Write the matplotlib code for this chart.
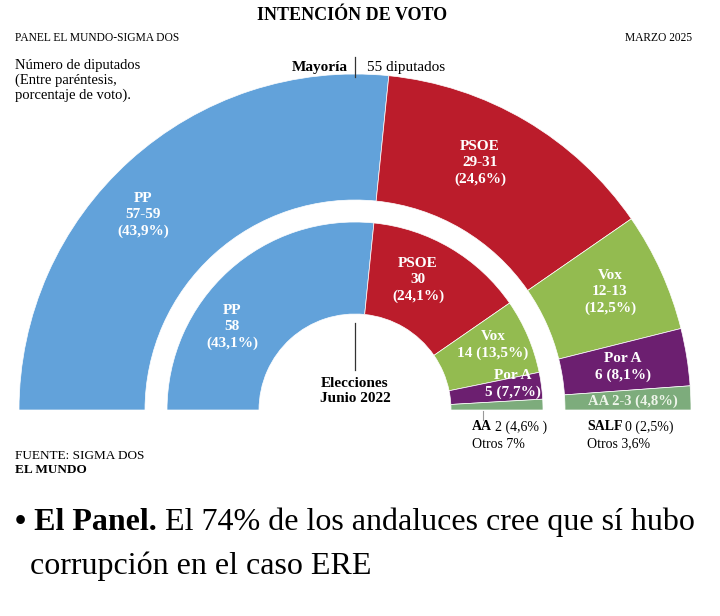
import matplotlib.pyplot as plt

# seats per party (range midpoints for the 2025 poll), 109 seats in total
parties = ['PP', 'PSOE', 'Vox', 'Por A', 'AA']
seats_2025 = [58, 30, 12.5, 6, 2.5]
range_2025 = ['57-59', '29-31', '12-13', '6', '2-3']
pct_2025 = ['43,9', '24,6', '12,5', '8,1', '4,8']
seats_2022 = [58, 30, 14, 5, 2]
pct_2022 = ['43,1', '24,1', '13,5', '7,7', '4,6']
colors = ['#62a2da', '#bb1c2b', '#93bb50', '#6c1f70', '#7dac7c']

W, H = 720, 616
plt.rcParams['font.family'] = ['Liberation Serif', 'DejaVu Serif']

fig = plt.figure(figsize=(7.2, 6.16), dpi=100)
ax = fig.add_axes([0, 0, 1, 1])


def Y(y):
    # pixel row from the top -> data y
    return H - y


cx, cy = 355, Y(410)

# outer ring: March 2025 poll
w_out, _ = ax.pie(seats_2025 + [sum(seats_2025)], colors=colors + ['none'],
                  radius=336, center=(cx, cy), startangle=180, counterclock=False,
                  wedgeprops=dict(width=126, linewidth=0.5, edgecolor='white'))
w_out[-1].set_visible(False)

# inner ring: June 2022 election
w_in, _ = ax.pie(seats_2022 + [sum(seats_2022)], colors=colors + ['none'],
                 radius=188, center=(cx, cy), startangle=180, counterclock=False,
                 wedgeprops=dict(width=92, linewidth=0.5, edgecolor='white'))
w_in[-1].set_visible(False)

ax.set_xlim(0, W)
ax.set_ylim(0, H)
ax.set_aspect('equal')
ax.axis('off')

# labels inside the outer ring
wl = dict(color='white', fontweight='bold', fontsize=11, ha='center', va='center',
          linespacing=1.28)
ax.text(143, Y(215), f'{parties[0]}\n{range_2025[0]}\n({pct_2025[0]}%)', **wl)
ax.text(480, Y(163), f'{parties[1]}\n{range_2025[1]}\n({pct_2025[1]}%)', **wl)
ax.text(610, Y(292), f'{parties[2]}\n{range_2025[2]}\n({pct_2025[2]}%)', **wl)
ax.text(623, Y(367), f'{parties[3]}\n{range_2025[3]} ({pct_2025[3]}%)', **wl)
ax.text(633, Y(401), f'{parties[4]} {range_2025[4]} ({pct_2025[4]}%)',
        **{**wl, 'color': '#eef5ea', 'fontsize': 10.5})

# labels inside the inner ring
ax.text(232, Y(327), f'{parties[0]}\n{seats_2022[0]}\n({pct_2022[0]}%)', **wl)
ax.text(418, Y(280), f'{parties[1]}\n{seats_2022[1]}\n({pct_2022[1]}%)', **wl)
ax.text(493, Y(345), f'{parties[2]}\n{seats_2022[2]} ({pct_2022[2]}%)', **wl)
ax.text(513, Y(384), f'{parties[3]}\n{seats_2022[3]} ({pct_2022[3]}%)', **wl)

# majority marker
ax.plot([cx, cx], [Y(57), Y(77)], color='#333333', lw=0.9)
ax.plot([cx, cx], [Y(323), Y(370)], color='#333333', lw=0.9)
ax.text(cx - 7, Y(67), 'Mayoría', fontsize=11, fontweight='bold', ha='right', va='center')
ax.text(cx + 12, Y(67), '55 diputados', fontsize=11, ha='left', va='center')
ax.text(cx, Y(391), 'Elecciones\nJunio 2022', fontsize=11, fontweight='bold',
        ha='center', va='center', linespacing=1.28)

# notes under the rings
ax.plot([483, 483], [Y(411), Y(420)], color='#999999', lw=0.8)
t = ax.text(472, Y(427), 'AA', fontsize=10, fontweight='bold', ha='left', va='center')
ax.annotate(f'{seats_2022[4]} ({pct_2022[4]}% )', xy=(1, 0.5), xycoords=t,
            xytext=(2, 0), textcoords='offset points',
            fontsize=10, ha='left', va='center')
ax.text(472, Y(444), 'Otros 7%', fontsize=10, ha='left', va='center')
t = ax.text(587, Y(427), 'SALF', fontsize=10, fontweight='bold', ha='left', va='center')
ax.annotate('0 (2,5%)', xy=(1, 0.5), xycoords=t, xytext=(2, 0),
            textcoords='offset points', fontsize=10, ha='left', va='center')
ax.text(587, Y(444), 'Otros 3,6%', fontsize=10, ha='left', va='center')

# header
ax.text(352, Y(16), 'INTENCIÓN DE VOTO', fontsize=13, fontweight='bold',
        ha='center', va='center')
ax.text(15, Y(38), 'PANEL EL MUNDO-SIGMA DOS', fontsize=8.3, ha='left', va='center')
ax.text(692, Y(38), 'MARZO 2025', fontsize=8.3, ha='right', va='center')
ax.text(15, Y(59), 'Número de diputados\n(Entre paréntesis,\nporcentaje de voto).',
        fontsize=10.5, ha='left', va='top', linespacing=1.15)

# footer
ax.text(15, Y(456), 'FUENTE: SIGMA DOS', fontsize=9.5, ha='left', va='center')
ax.text(15, Y(470), 'EL MUNDO', fontsize=9.5, fontweight='bold', ha='left', va='center')

t = ax.text(15, Y(530), '• El Panel.', fontsize=23, fontweight='bold',
            ha='left', va='baseline')
ax.annotate(' El 74% de los andaluces cree que sí hubo', xy=(1, 0), xycoords=t,
            fontsize=23, ha='left', va='bottom')
ax.text(30, Y(574), 'corrupción en el caso ERE', fontsize=23, ha='left', va='baseline')

fig.savefig('out.png', dpi=100, facecolor='white')
